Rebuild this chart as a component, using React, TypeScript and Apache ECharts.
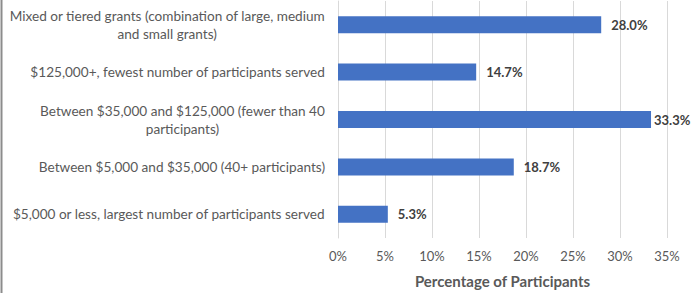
import React, { useEffect, useRef } from "react";
import * as echarts from "echarts";

const categories: string[] = [
  "Mixed or tiered grants (combination of large, medium\nand small grants)",
  "$125,000+, fewest number of participants served",
  "Between $35,000 and $125,000 (fewer than 40\nparticipants)",
  "Between $5,000 and $35,000 (40+ participants)",
  "$5,000 or less, largest number of participants served",
];
const values: number[] = [28.0, 14.7, 33.3, 18.7, 5.3];
const axisMin = 0;
const axisMax = 35;
const axisInterval = 5;
const axisTitle = "Percentage of Participants";

const FONT = "Lato";

export default function App() {
  const ref = useRef<HTMLDivElement>(null);
  useEffect(() => {
    if (!ref.current) return;
    const chart = echarts.init(ref.current, undefined, { renderer: "svg" });
    chart.setOption({
      animation: false,
      backgroundColor: "#ffffff",
      textStyle: { fontFamily: FONT },
      grid: { left: 338, right: 27, top: 1, bottom: 53, containLabel: false },
      xAxis: {
        type: "value",
        min: axisMin,
        max: axisMax,
        interval: axisInterval,
        axisLabel: {
          formatter: (v: number) => `${v}%`,
          color: "#595959",
          fontSize: 13,
          fontFamily: FONT,
          margin: 11,
        },
        axisLine: { show: false },
        axisTick: { show: false },
        splitLine: { show: true, lineStyle: { color: "#d9d9d9", width: 1 } },
        name: axisTitle,
        nameLocation: "middle",
        nameGap: 35,
        nameTextStyle: {
          color: "#595959",
          fontSize: 15,
          fontWeight: "bold",
          fontFamily: FONT,
        },
      },
      yAxis: {
        type: "category",
        data: categories,
        inverse: true,
        axisLine: { show: true, lineStyle: { color: "#d9d9d9" } },
        axisTick: { show: false },
        axisLabel: {
          color: "#595959",
          fontSize: 13.6,
          fontFamily: FONT,
          margin: 13,
          lineHeight: 18,
          align: "right",
          formatter: (v: string) =>
            v
              .split("\n")
              .map((l) => `{c|${l}}`)
              .join("\n"),
          rich: {
            c: {
              align: "center",
              color: "#595959",
              fontSize: 13.6,
              fontFamily: FONT,
              lineHeight: 18,
            },
          },
        },
      },
      series: [
        {
          type: "bar",
          data: values.map((v, i) =>
            i === values.indexOf(Math.max(...values))
              ? { value: v, label: { distance: 3 } }
              : v
          ),
          barWidth: 17,
          itemStyle: { color: "#4472c4" },
          label: {
            show: true,
            position: "right",
            distance: 10,
            formatter: (p: any) => `${Number(p.value).toFixed(1)}%`,
            color: "#404040",
            fontSize: 13,
            fontWeight: "bold",
            fontFamily: FONT,
          },
        },
      ],
      graphic: [
        {
          type: "line",
          shape: { x1: 1.5, y1: 0, x2: 1.5, y2: 293 },
          style: { stroke: "#8c8c8c", lineWidth: 2 },
        },
      ],
    });
    return () => chart.dispose();
  }, []);
  return (
    <div
      ref={ref}
      style={{ position: "absolute", left: 0, top: 0, width: 694, height: 293 }}
    />
  );
}
